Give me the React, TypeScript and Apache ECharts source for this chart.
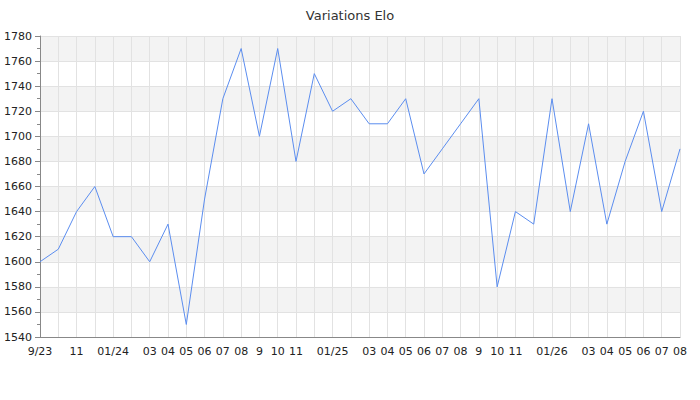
import React, { useEffect, useRef } from "react";
import * as echarts from "echarts";

const months = [
  "9/23", "10", "11", "12", "01/24", "02", "03", "04", "05", "06", "07", "08",
  "9", "10", "11", "12", "01/25", "02", "03", "04", "05", "06", "07", "08",
  "9", "10", "11", "12", "01/26", "02", "03", "04", "05", "06", "07", "08",
];
const hiddenLabelIdx = [1, 3, 5, 15, 17, 27, 29];
const elo = [
  1600, 1610, 1640, 1660, 1620, 1620, 1600, 1630, 1550, 1650, 1730, 1770,
  1700, 1770, 1680, 1750, 1720, 1730, 1710, 1710, 1730, 1670, 1690, 1710,
  1730, 1580, 1640, 1630, 1730, 1640, 1710, 1630, 1680, 1720, 1640, 1690,
];

export default function App() {
  const ref = useRef<HTMLDivElement>(null);
  useEffect(() => {
    if (!ref.current) return;
    const chart = echarts.init(ref.current, undefined, { renderer: "svg" });
    chart.setOption({
      animation: false,
      textStyle: { fontFamily: "DejaVu Sans" },
      title: {
        text: "Variations Elo",
        left: "center",
        top: 4,
        textStyle: { fontSize: 13, fontWeight: "normal", color: "#333", fontFamily: "DejaVu Sans" },
      },
      grid: { left: 40, right: 20, top: 36, bottom: 63, containLabel: false },
      xAxis: {
        type: "category",
        data: months,
        boundaryGap: false,
        axisLine: { lineStyle: { color: "#888" } },
        axisTick: { show: false },
        axisLabel: {
          color: "#222",
          fontSize: 11,
          margin: 9,
          interval: (i: number) => !hiddenLabelIdx.includes(i),
        },
        splitLine: { show: true, interval: 0, lineStyle: { color: "#e2e2e2" } },
      },
      yAxis: {
        type: "value",
        min: 1540,
        max: 1780,
        interval: 20,
        axisLine: { show: true, lineStyle: { color: "#888" } },
        axisTick: { show: true, length: 5, lineStyle: { color: "#888" } },
        minorTick: { show: true, splitNumber: 2, length: 3, lineStyle: { color: "#888" } },
        axisLabel: {
          color: "#222",
          fontSize: 11,
          margin: 8,
          formatter: (v: number) => String(v),
        },
        splitLine: { show: true, lineStyle: { color: "#e2e2e2" } },
        splitArea: { show: true, areaStyle: { color: ["#ffffff", "#f3f3f3"] } },
      },
      series: [
        {
          type: "line",
          data: elo,
          showSymbol: false,
          lineStyle: { color: "#5b8def", width: 1 },
          itemStyle: { color: "#5b8def" },
        },
      ],
    });
    return () => chart.dispose();
  }, []);
  return (
    <div
      ref={ref}
      style={{ position: "absolute", left: 0, top: 0, width: 700, height: 400 }}
    />
  );
}
